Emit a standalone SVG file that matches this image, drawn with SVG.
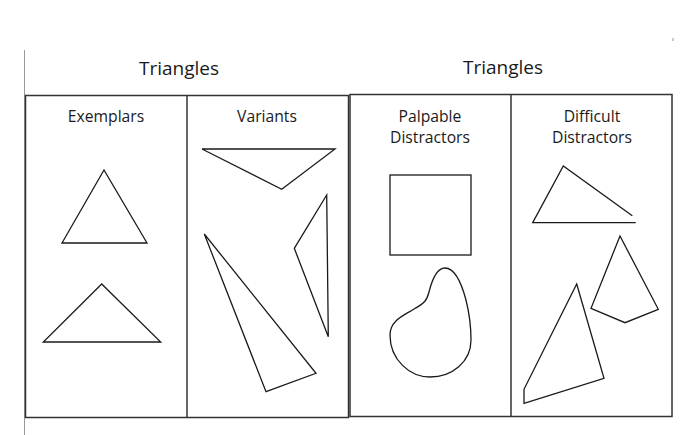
<svg xmlns="http://www.w3.org/2000/svg" width="700" height="435" viewBox="0 0 700 435">
<style>
.t{font-family:"Open Sans","Liberation Sans",sans-serif;fill:#1a1a1a;text-anchor:middle}
.h{font-size:19px}
.l{font-size:15.7px}
.box{fill:none;stroke:#333;stroke-width:1.5}
.s{fill:none;stroke:#1a1a1a;stroke-width:1.3;stroke-linejoin:miter}
</style>
<rect width="700" height="435" fill="#fff"/>
<line x1="24.5" y1="50" x2="24.5" y2="435" stroke="#999" stroke-width="1"/>
<line x1="673" y1="38" x2="673" y2="41" stroke="#999" stroke-width="1"/>
<g id="group-left">
<text class="t h" x="179" y="75">Triangles</text>
<rect class="box" x="25.5" y="95.5" width="323" height="322"/>
<line class="box" x1="187" y1="95.5" x2="187" y2="417.5"/>
</g>
<g id="group-right">
<text class="t h" x="503" y="74">Triangles</text>
<rect class="box" x="350" y="94.5" width="322" height="322"/>
<line class="box" x1="511" y1="94.5" x2="511" y2="416.5"/>
</g>
<g id="exemplars">
<text class="t l" x="106" y="122">Exemplars</text>
<polygon class="s" points="104,170 62,243 147,243"/>
<polygon class="s" points="101.7,284 43.3,342 160.7,342"/>
</g>
<g id="variants">
<text class="t l" x="267" y="122">Variants</text>
<polygon class="s" points="202,149 335,149 281.7,189.3"/>
<polygon class="s" points="204.3,234 266,391.7 316,373.3"/>
<polygon class="s" points="326.7,195 294.3,248.3 328.3,336.7"/>
</g>
<g id="palpable">
<text class="t l" x="430" y="122">Palpable</text>
<text class="t l" x="430" y="143">Distractors</text>
<rect class="s" x="390" y="175" width="81" height="80"/>
<path class="s" d="M445,268 C455,268 462,285 466,300 C470,316 471,330 471,340 C471,362 452,377 430,377 C410,377 390,360 390,335 C390,320 405,315 414,309 C425,303 427,300 429,292 C432,280 437,268 445,268 Z"/>
</g>
<g id="difficult">
<text class="t l" x="592" y="122">Difficult</text>
<text class="t l" x="592" y="143">Distractors</text>
<polyline class="s" points="632.3,215.7 563.3,166 532.7,222.7 635.7,222.7"/>
<polygon class="s" points="620,236 658.3,309.3 625,322.7 591,308.3"/>
<polygon class="s" points="576.7,284 604,378.3 524,403.3 524,389.3"/>
</g>
</svg>
